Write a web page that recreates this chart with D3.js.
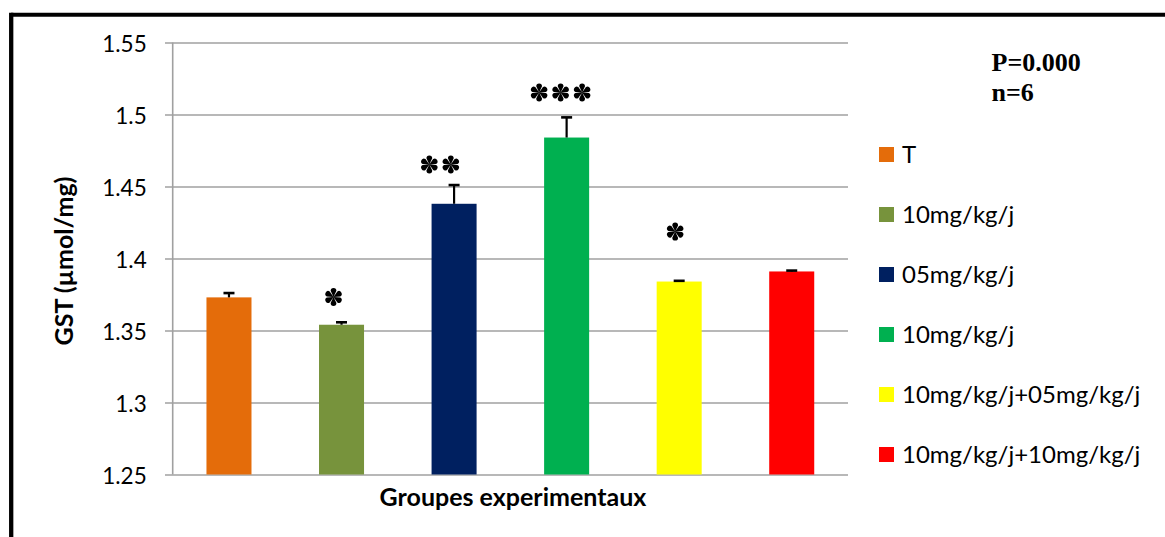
<!DOCTYPE html>
<html><head><meta charset="utf-8">
<script src="https://cdn.jsdelivr.net/npm/d3@7"></script>
<style>body{margin:0;background:#fff}svg{display:block}</style>
</head><body>
<svg id="c" width="1165" height="537"></svg>
<script>
const categories = ["T","10mg/kg/j","05mg/kg/j","10mg/kg/j ","10mg/kg/j+05mg/kg/j","10mg/kg/j+10mg/kg/j"];
const legendLabels = ["T","10mg/kg/j","05mg/kg/j","10mg/kg/j","10mg/kg/j+05mg/kg/j","10mg/kg/j+10mg/kg/j"];
const values = [1.373, 1.354, 1.438, 1.484, 1.384, 1.391];
const errors = [0.003, 0.0017, 0.013, 0.014, 0.0005, 0.0006];
const starCounts = [0, 1, 2, 3, 1, 0];
const starLevels = [null, 1.3733, 1.4653, 1.5153, 1.4187, null];
const colors = ["#E46C0A","#77933C","#002060","#00B050","#FFFF00","#FF0000"];
const yTicks = [1.25, 1.3, 1.35, 1.4, 1.45, 1.5, 1.55];

(function () {
const svg = d3.select("#c");
const W = 1165, H = 537;
const pL = 172.7, pR = 848, pT = 42.5, pB = 474.5;

// frame
svg.append("line").attr("x1", 11).attr("x2", W).attr("y1", 14.7).attr("y2", 14.7).attr("stroke", "#000").attr("stroke-width", 4);
svg.append("line").attr("x1", 11.2).attr("x2", 11.2).attr("y1", 12.7).attr("y2", H).attr("stroke", "#000").attr("stroke-width", 4.3);

const x = d3.scaleBand().domain(categories).range([pL, pR]).paddingInner(0.6).paddingOuter(0.3);
const y = d3.scaleLinear().domain([1.25, 1.55]).range([pB, pT]);

const sans = "Lato, 'Open Sans', sans-serif";

// gridlines + y axis
const yAxis = d3.axisLeft(y).tickValues(yTicks).tickSize(pR - pL).tickFormat(d3.format(""));
const gy = svg.append("g").attr("transform", `translate(${pR},0)`).call(yAxis);
gy.select(".domain").remove();
gy.selectAll(".tick line").attr("x1", -(pR - pL) - 7.7).attr("x2", 0).attr("stroke", "#a0a0a0").attr("stroke-width", 1.6);
gy.selectAll(".tick text").attr("x", -(pR - pL) - 26).attr("dy", "0.42em").attr("font-family", sans).attr("font-size", 22.5).attr("fill", "#000");
svg.append("line").attr("x1", pL).attr("x2", pL).attr("y1", pT).attr("y2", pB).attr("stroke", "#a0a0a0").attr("stroke-width", 1.6);

// bars
svg.append("g").selectAll("rect").data(values).join("rect")
  .attr("x", (d, i) => x(categories[i]))
  .attr("width", x.bandwidth())
  .attr("y", d => y(d))
  .attr("height", d => pB - y(d))
  .attr("fill", (d, i) => colors[i]);

// error bars
const eg = svg.append("g").attr("stroke", "#000").attr("stroke-width", 2.2);
values.forEach((v, i) => {
  const cx = x(categories[i]) + x.bandwidth() / 2;
  eg.append("line").attr("x1", cx).attr("x2", cx).attr("y1", y(v)).attr("y2", y(v + errors[i]));
  eg.append("line").attr("x1", cx - 5.5).attr("x2", cx + 5.5).attr("y1", y(v + errors[i])).attr("y2", y(v + errors[i])).attr("stroke-width", 2.6);
});

// significance stars (6 teardrop petals)
function petalStar(R, r) {
  const p = d3.path();
  for (let k = 0; k < 6; k++) {
    const a = k * Math.PI / 3;
    const ux = Math.sin(a), uy = -Math.cos(a);      // outward direction
    const vx = Math.cos(a), vy = Math.sin(a);       // perpendicular
    const cxp = ux * (R - r), cyp = uy * (R - r);
    p.moveTo(0, 0);
    p.lineTo(cxp + vx * r, cyp + vy * r);
    p.arc(cxp, cyp, r, a, a + Math.PI, true);
    p.closePath();
  }
  return p.toString();
}
const starPath = petalStar(9, 2.9);
const starOffset = [0, -8, -14, -6, -4, 0];
const sg = svg.append("g").attr("fill", "#000");
starCounts.forEach((n, i) => {
  if (!n) return;
  const cx = x(categories[i]) + x.bandwidth() / 2 + starOffset[i];
  const cy = y(starLevels[i]);
  for (let k = 0; k < n; k++) {
    sg.append("path").attr("d", starPath)
      .attr("transform", `translate(${cx + (k - (n - 1) / 2) * 21.5},${cy})`);
  }
  sg.append("title").text("*".repeat(n));
});

// axis titles
svg.append("text").attr("transform", "translate(73,261) rotate(-90)").attr("text-anchor", "middle")
  .attr("font-family", sans).attr("font-weight", "bold").attr("font-size", 25).text("GST (µmol/mg)");
svg.append("text").attr("x", 513).attr("y", 506).attr("text-anchor", "middle")
  .attr("font-family", sans).attr("font-weight", "bold").attr("font-size", 25).text("Groupes experimentaux");

// P / n annotation
const serif = "'Liberation Serif', 'Times New Roman', serif";
svg.append("text").attr("x", 991.5).attr("y", 70.5).attr("font-family", serif).attr("font-weight", "bold").attr("font-size", 26).text("P=0.000");
svg.append("text").attr("x", 991.5).attr("y", 100.5).attr("font-family", serif).attr("font-weight", "bold").attr("font-size", 26).text("n=6");

// legend
const ly = d3.scalePoint().domain(d3.range(legendLabels.length)).range([154.5, 454.5]);
const lg = svg.append("g").selectAll("g").data(legendLabels).join("g")
  .attr("transform", (d, i) => `translate(879,${ly(i)})`);
lg.append("rect").attr("x", 0).attr("y", -7.5).attr("width", 15).attr("height", 15).attr("fill", (d, i) => colors[i]);
lg.append("text").attr("x", 23).attr("y", 8).attr("font-family", sans).attr("font-size", 24).text(d => d);
})();
</script>
</body></html>
